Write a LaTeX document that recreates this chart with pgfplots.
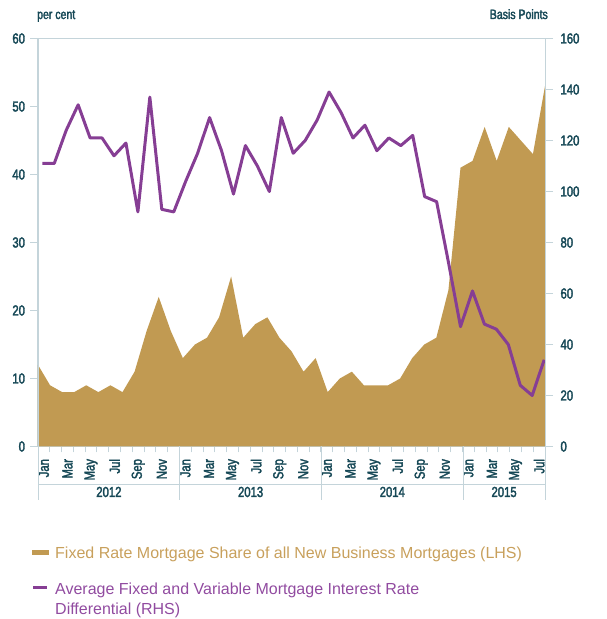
\documentclass[border=0pt]{standalone}
\usepackage{fontspec}
\setmainfont{Liberation Sans}
\newfontfamily\tickfont[FakeStretch=0.78,FakeBold=2.2]{Liberation Sans}
\usepackage{pgfplots}
\pgfplotsset{compat=1.18}
\usepackage{pgfplotstable}

\definecolor{gold}{RGB}{193,154,82}
\definecolor{goldtxt}{RGB}{200,160,92}
\definecolor{purp}{RGB}{134,62,148}
\definecolor{purptxt}{RGB}{145,75,160}
\definecolor{tealtxt}{RGB}{22,72,86}
\definecolor{axcol}{RGB}{196,212,218}

\pgfplotstableread{
x share
0 12
1 9
2 8
3 8
4 9
5 8
6 9
7 8
8 11
9 17
10 22
11 17
12 13
13 15
14 16
15 19
16 25
17 16
18 18
19 19
20 16
21 14
22 11
23 13
24 8
25 10
26 11
27 9
28 9
29 9
30 10
31 13
32 15
33 16
34 23
35 41
36 42
37 47
38 42
39 47
40 45
41 43
42 53
}\sharetable

\pgfplotstableread{
x diff
0 111
1 111
2 124
3 134
4 121
5 121
6 114
7 119
8 92
9 137
10 93
11 92
12 104
13 115
14 129
15 116
16 99
17 118
18 110
19 100
20 129
21 115
22 120
23 128
24 139
25 131
26 121
27 126
28 116
29 121
30 118
31 122
32 98
33 96
34 72
35 47
36 61
37 48
38 46
39 40
40 24
41 20
42 34
}\difftable

\pgfplotsset{
  base/.style={
    at={(38pt,172.5pt)}, anchor=south west,
    scale only axis, width=507pt, height=408pt,
    /pgf/number format/assume math mode=true,
    tick label style={font=\tickfont\fontsize{14.5}{16}\selectfont, text=tealtxt},
    tick style={axcol, line width=1pt},
    axis line style={axcol, line width=1pt},
    tick align=outside,
  }
}

\begin{document}
\begin{tikzpicture}
\useasboundingbox (0,0) rectangle (607pt,619pt);

% category axis (ticks and month labels)
\begin{axis}[base,
  xmin=0, xmax=43, ymin=0, ymax=1,
  hide y axis,
  axis x line*=bottom,
  xtick={0.5,2.5,...,42.5},
  xticklabels={Jan,Mar,May,Jul,Sep,Nov,Jan,Mar,May,Jul,Sep,Nov,Jan,Mar,May,Jul,Sep,Nov,Jan,Mar,May,Jul},
  major tick length=0pt,
  minor xtick={1,2,...,42},
  minor tick length=6pt,
  xticklabel style={rotate=90, anchor=east},
  xticklabel shift=9pt,
]
\end{axis}

% area (LHS)
\begin{axis}[base,
  xmin=0, xmax=42, ymin=0, ymax=60,
  hide x axis,
  axis y line*=left,
  ytick={0,10,...,60},
  major tick length=8pt,
  yticklabel shift=1.5pt,
]
\addplot[fill=gold, draw=none] table[x=x,y=share]{\sharetable} \closedcycle;
\end{axis}

% line (RHS)
\begin{axis}[base,
  xmin=-0.36, xmax=42.07, ymin=0, ymax=160,
  hide x axis,
  axis y line*=right,
  ytick={0,20,...,160},
  major tick length=8pt,
  yticklabel shift=4pt,
]
\addplot[purp, line width=3pt, line join=round, mark=none] table[x=x,y=diff]{\difftable};
\end{axis}

% frame pieces
\draw[axcol, line width=1pt] (30pt,580.5pt) -- (545pt,580.5pt);
\draw[axcol, line width=1pt] (38pt,580.5pt) -- (38pt,119pt);
\draw[axcol, line width=1pt] (545pt,580.5pt) -- (545pt,119pt);
\draw[axcol, line width=1pt] (38pt,134pt) -- (545pt,134pt);
\foreach \xx in {179.7,321.4,463.2}{
  \draw[axcol, line width=1pt] (\xx pt,172.5pt) -- (\xx pt,119pt);
}
\begin{scope}[every node/.style={font=\tickfont\fontsize{14.5}{16}\selectfont, text=tealtxt, inner sep=0pt}]
\node at (108.9pt,127pt) {2012};
\node at (250.6pt,127pt) {2013};
\node at (392.3pt,127pt) {2014};
\node at (504.1pt,127pt) {2015};
\node[anchor=base west, font=\tickfont\fontsize{13.5}{15}\selectfont] at (37pt,600pt) {per cent};
\node[anchor=base east, font=\tickfont\fontsize{13.5}{15}\selectfont] at (548pt,600pt) {Basis Points};
\end{scope}

% legend
\fill[gold] (32pt,64pt) rectangle (49pt,69pt);
\draw[purp, line width=3pt] (33pt,31pt) -- (47pt,31pt);
\node[anchor=base west, inner sep=0pt, text=goldtxt, font=\fontsize{16}{19}\selectfont] at (55pt,60.3pt) {Fixed Rate Mortgage Share of all New Business Mortgages (LHS)};
\node[anchor=base west, inner sep=0pt, text=purptxt, font=\fontsize{16}{19}\selectfont] at (55pt,24.7pt) {Average Fixed and Variable Mortgage Interest Rate};
\node[anchor=base west, inner sep=0pt, text=purptxt, font=\fontsize{16}{19}\selectfont] at (55pt,5pt) {Differential (RHS)};
\end{tikzpicture}
\end{document}
